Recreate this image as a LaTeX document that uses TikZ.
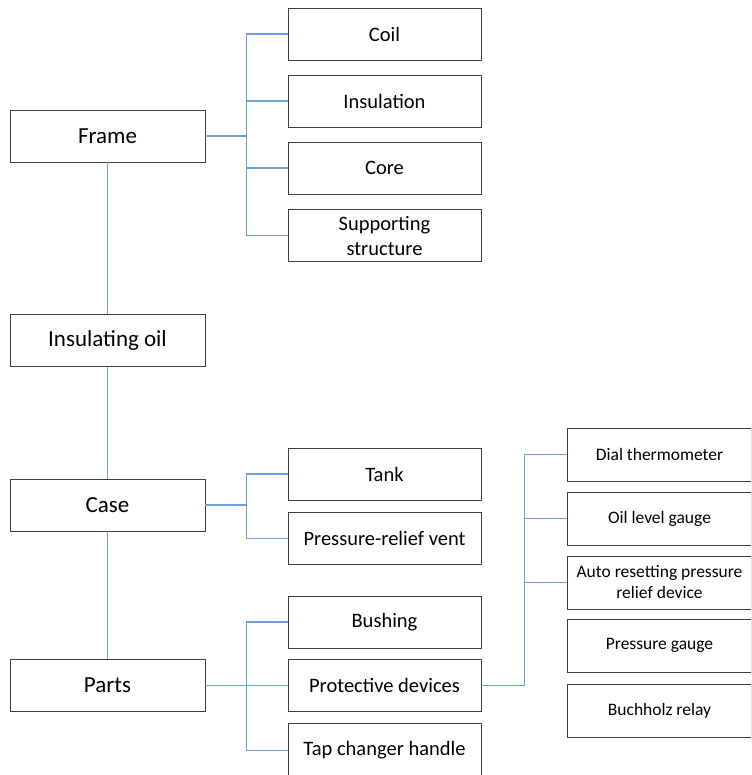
\documentclass[tikz,border=0pt]{standalone}
\usepackage{fontspec}
\setmainfont{Carlito}
\definecolor{conn}{HTML}{6E9FD6}
\definecolor{edge}{HTML}{3F3F3F}
\begin{document}
\begin{tikzpicture}[x=1pt,y=-1pt,
  box/.style={draw=edge,line width=0.9pt,rectangle,align=center,inner sep=2pt},
  lbox/.style={box,minimum width=195pt,minimum height=52pt,font=\fontsize{23}{26}\selectfont},
  mbox/.style={box,minimum width=193pt,minimum height=52pt,font=\fontsize{20.5}{25}\selectfont},
  rbox/.style={box,minimum width=184pt,minimum height=53pt,font=\fontsize{17.5}{21}\selectfont},
  link/.style={draw=conn,line width=1.1pt}]
\useasboundingbox (0,0) rectangle (751,775);
\begin{scope}
\clip (0,0) rectangle (751,775);
% left column
\node[lbox] (frame) at (107.5,136) {Frame};
\node[lbox] (oil) at (107.5,340.5) {Insulating oil};
\node[lbox] (case) at (107.5,505) {Case};
\node[lbox] (parts) at (107.5,685.5) {Parts};
% middle column
\node[mbox] (coil) at (384.5,34) {Coil};
\node[mbox] (insul) at (384.5,101) {Insulation};
\node[mbox] (core) at (384.5,168) {Core};
\node[mbox] (supp) at (384.5,235.5) {Supporting\\structure};
\node[mbox] (tank) at (384.5,474) {Tank};
\node[mbox] (vent) at (384.5,538.5) {Pressure-relief vent};
\node[mbox] (bush) at (384.5,622) {Bushing};
\node[mbox] (prot) at (384.5,685.5) {Protective devices};
\node[mbox,minimum height=54pt] (tap) at (384.5,750.5) {Tap changer handle};
% right column
\node[rbox] (dial) at (659.5,454.5) {Dial thermometer};
\node[rbox] (olg) at (659.5,518.5) {Oil level gauge};
\node[rbox] (auto) at (659.5,582.5) {Auto resetting pressure\\relief device};
\node[rbox] (pg) at (659.5,645.5) {Pressure gauge};
\node[rbox] (buch) at (659.5,710.5) {Buchholz relay};
\end{scope}
% vertical chain
\draw[link] (frame) -- (oil);
\draw[link] (oil) -- (case);
\draw[link] (case) -- (parts);
% frame group
\draw[link] (frame.east) -- ++(41,0) coordinate (bf);
\draw[link] (bf) |- (coil.west);
\draw[link] (bf) |- (insul.west);
\draw[link] (bf) |- (core.west);
\draw[link] (bf) |- (supp.west);
% case group
\draw[link] (case.east) -- ++(41,0) coordinate (bc);
\draw[link] (bc) |- (tank.west);
\draw[link] (bc) |- (vent.west);
% parts group
\draw[link] (parts.east) -- ++(41,0) coordinate (bp);
\draw[link] (bp) |- (bush.west);
\draw[link] (bp) -- (prot.west);
\draw[link] (bp) |- (tap.west);
% protective devices group
\draw[link] (prot.east) -- ++(43,0) coordinate (bd);
\draw[link] (bd) |- (dial.west);
\draw[link] (bd) |- (olg.west);
\draw[link] (bd) |- (auto.west);
\end{tikzpicture}
\end{document}
